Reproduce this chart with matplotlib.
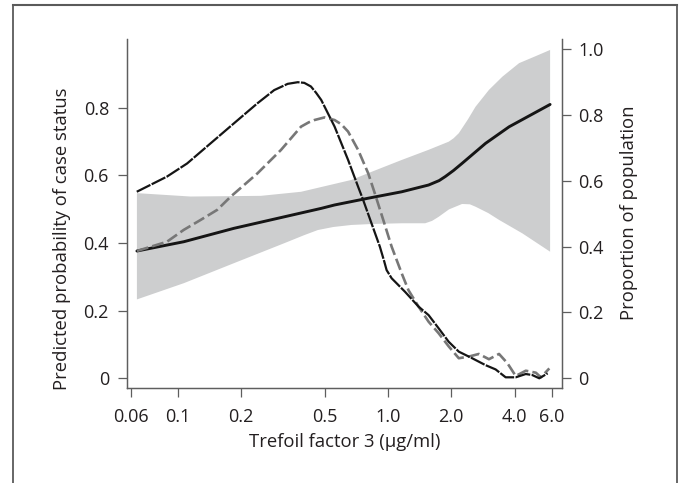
import numpy as np
import matplotlib
matplotlib.use('Agg')
import matplotlib.pyplot as plt
from matplotlib.lines import Line2D
from matplotlib.ticker import NullLocator

plt.rcParams['font.family'] = ['Open Sans', 'DejaVu Sans']
plt.rcParams['lines.scale_dashes'] = False

# ---- data ----
xticks = [0.06, 0.1, 0.2, 0.5, 1.0, 2.0, 4.0, 6.0]
xticklabels = ['0.06', '0.1', '0.2', '0.5', '1.0', '2.0', '4.0', '6.0']
lticks = [0, 0.2, 0.4, 0.6, 0.8]
lticklabels = ['0', '0.2', '0.4', '0.6', '0.8']
rticks = [0, 0.2, 0.4, 0.6, 0.8, 1.0]
rticklabels = ['0', '0.2', '0.4', '0.6', '0.8', '1.0']

# predicted probability (left axis)
pred_x = [0.064, 0.107, 0.185, 0.321, 0.4815, 0.557, 0.805, 1.162, 1.449, 1.56, 1.75, 1.873, 2.05, 2.251, 2.909, 3.766, 5.9]
pred_y = [0.376, 0.4035, 0.443, 0.477, 0.502, 0.512, 0.532, 0.551, 0.566, 0.571, 0.584, 0.596, 0.614, 0.635, 0.694, 0.743, 0.809]

ci_lo_x = [0.064, 0.107, 0.185, 0.321, 0.40, 0.464, 0.55, 0.67, 0.85, 1.162, 1.503, 1.62, 1.741, 1.95, 2.251, 2.45, 2.606, 3.0, 3.373, 4.359, 5.9]
ci_lo_y = [0.233, 0.281, 0.340, 0.399, 0.423, 0.438, 0.447, 0.453, 0.456, 0.458, 0.458, 0.465, 0.477, 0.499, 0.515, 0.514, 0.507, 0.488, 0.468, 0.428, 0.374]
ci_hi_x = [0.064, 0.115, 0.2485, 0.386, 0.67, 0.805, 1.162, 1.56, 1.944, 2.05, 2.171, 2.4, 2.606, 3.02, 3.498, 4.2, 5.05, 5.9]
ci_hi_y = [0.547, 0.537, 0.539, 0.551, 0.586, 0.606, 0.645, 0.675, 0.699, 0.709, 0.724, 0.765, 0.802, 0.852, 0.891, 0.931, 0.952, 0.970]

# proportion of population (right axis)
cases_x = [0.0639, 0.0889, 0.1109, 0.1433, 0.1852, 0.2396, 0.2877, 0.3336, 0.3724, 0.40, 0.43, 0.455, 0.4815,
           0.5573, 0.6459, 0.7213, 0.762, 0.835, 0.915, 0.96, 0.985, 1.041, 1.205, 1.397, 1.56, 1.741,
           1.944, 2.171, 2.513, 2.909, 3.249, 3.627, 4.05, 4.52, 4.85, 5.241, 5.742]
cases_y = [0.567, 0.613, 0.653, 0.714, 0.775, 0.836, 0.876, 0.895, 0.900, 0.898, 0.887, 0.868, 0.846,
           0.765, 0.664, 0.582, 0.542, 0.471, 0.400, 0.355, 0.329, 0.304, 0.263, 0.218, 0.192, 0.152,
           0.111, 0.081, 0.061, 0.040, 0.027, 0.003, 0.003, 0.013, 0.010, 0.0, 0.015]

ctrl_x = [0.064, 0.0889, 0.1068, 0.1283, 0.1542, 0.1786, 0.2396, 0.3098, 0.3862, 0.42, 0.4471, 0.4993,
          0.5573, 0.6, 0.6459, 0.7213, 0.8054, 0.8659, 0.95, 1.041, 1.162, 1.251, 1.397, 1.56, 1.741,
          1.944, 2.171, 2.423, 2.705, 3.02, 3.373, 3.696, 4.05, 4.52, 5.048, 5.333, 5.85]
ctrl_y = [0.387, 0.415, 0.451, 0.481, 0.512, 0.552, 0.623, 0.694, 0.765, 0.778, 0.785, 0.793,
          0.785, 0.772, 0.750, 0.694, 0.623, 0.562, 0.481, 0.400, 0.319, 0.268, 0.218, 0.172, 0.137,
          0.097, 0.061, 0.066, 0.074, 0.058, 0.074, 0.046, 0.007, 0.023, 0.017, 0.003, 0.030]

# ---- figure ----
W, H = 679, 483
fig = plt.figure(figsize=(W / 100, H / 100), dpi=100)
ax = fig.add_axes([127 / W, 1 - 388 / H, (561.7 - 127) / W, (388 - 39.3) / H])
ax2 = ax.twinx()

spine_c = '#5e5e5e'
text_c = '#231f20'
band_c = '#cdcecf'

# band
poly_x = np.concatenate([ci_hi_x, ci_lo_x[::-1]])
poly_y = np.concatenate([ci_hi_y, ci_lo_y[::-1]])
ax.fill(poly_x, poly_y, color=band_c, lw=0, zorder=1)
ax.plot(pred_x, pred_y, color='#151515', lw=2.1, solid_capstyle='round',
        solid_joinstyle='round', zorder=3)

ax2.plot(ctrl_x, ctrl_y, color='#777777', lw=1.9, dashes=(8.5, 3.0),
         dash_joinstyle='round', zorder=3)
ax2.plot(cases_x, cases_y, color='#151515', lw=1.6, dashes=(11, 1.0),
         dash_joinstyle='round', zorder=4)

ax.set_xscale('log')
ax.set_xlim(0.05742, 6.699)
ax.set_ylim(-0.0287, 1.0015)
ax2.set_ylim(-0.0295, 1.0304)

ax.set_xticks(xticks)
ax.set_xticklabels(xticklabels)
ax.xaxis.set_minor_locator(NullLocator())
ax.set_yticks(lticks)
ax.set_yticklabels(lticklabels)
ax2.set_yticks(rticks)
ax2.set_yticklabels(rticklabels)

for a in (ax, ax2):
    a.spines['top'].set_visible(False)
    for s in ('left', 'right', 'bottom'):
        a.spines[s].set_color(spine_c)
        a.spines[s].set_linewidth(0.9)
    a.patch.set_visible(False)

ax.tick_params(axis='x', which='both', length=6.5, width=0.9, color=spine_c,
               labelsize=13, labelcolor=text_c, pad=8.0)
ax.tick_params(axis='y', length=6.5, width=0.9, color=spine_c,
               labelsize=13, labelcolor=text_c, pad=6.5)
ax2.tick_params(axis='y', length=6.5, width=0.9, color=spine_c,
                labelsize=13, labelcolor=text_c, pad=5.5)

fig.text(62 / W, 1 - 239 / H, 'Predicted probability of case status', rotation=90,
         ha='center', va='center', fontsize=13.3, color=text_c)
fig.text(628.5 / W, 1 - 212.5 / H, 'Proportion of population', rotation=90,
         ha='center', va='center', fontsize=13.3, color=text_c)
fig.text(345 / W, 1 - 442 / H, 'Trefoil factor 3 (μg/ml)',
         ha='center', va='center', fontsize=13.3, color=text_c)

# outer frame (left, top, right; open at bottom)
fc = '#5a5a5a'
fig.add_artist(Line2D([13.3 / W, 13.3 / W], [0, 1 - 5 / H], transform=fig.transFigure, color=fc, lw=1.3))
fig.add_artist(Line2D([13.3 / W, 676.7 / W], [1 - 5 / H, 1 - 5 / H], transform=fig.transFigure, color=fc, lw=1.5))
fig.add_artist(Line2D([676.7 / W, 676.7 / W], [0, 1 - 5 / H], transform=fig.transFigure, color=fc, lw=1.3))

fig.savefig('out.png', dpi=100, facecolor='white')
